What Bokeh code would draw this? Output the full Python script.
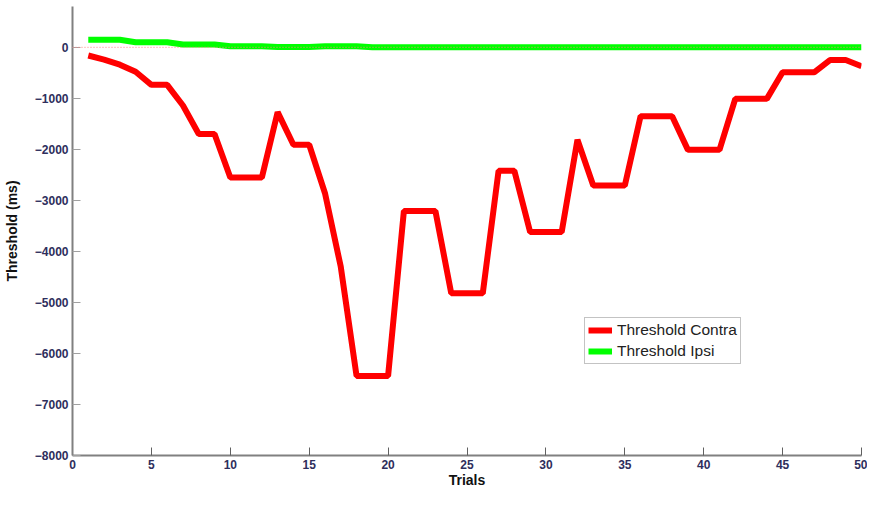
from bokeh.plotting import figure
from bokeh.models import FixedTicker, Span
from bokeh.embed import file_html
from bokeh.resources import INLINE

trials = list(range(1, 51))
contra = [-160, -240, -340, -480, -735, -735, -1140, -1700, -1700, -2550,
          -2550, -2550, -1270, -1910, -1910, -2860, -4300, -6440, -6440, -6440,
          -3210, -3210, -3210, -4820, -4820, -4820, -2420, -2420, -3620, -3620,
          -3620, -1810, -2710, -2710, -2710, -1350, -1350, -1350, -2010, -2010,
          -2010, -1010, -1010, -1010, -490, -490, -490, -250, -250, -370]
ipsi = [150, 150, 150, 100, 100, 100, 55, 55, 55, 20,
        20, 20, 5, 5, 5, 20, 20, 20, 0, 0,
        0, 0, 0, 0, 0, 0, 0, 0, 0, 0,
        0, 0, 0, 0, 0, 0, 0, 0, 0, 0,
        0, 0, 0, 0, 0, 0, 0, 0, 0, 0]
x_ticks = [0, 5, 10, 15, 20, 25, 30, 35, 40, 45, 50]
y_ticks = [0, -1000, -2000, -3000, -4000, -5000, -6000, -7000, -8000]

p = figure(width=867, height=490, x_range=(0, 50), y_range=(-8000, 800),
           output_backend="svg", toolbar_location=None,
           min_border_left=0, min_border_right=6, min_border_top=6, min_border_bottom=0)
p.outline_line_color = None
p.xgrid.visible = False
p.ygrid.visible = False
p.background_fill_color = "white"
p.border_fill_color = "white"

p.line(trials, contra, line_color="#ff0000", line_width=6, legend_label="Threshold Contra")
p.line(trials, ipsi, line_color="#00ff00", line_width=6, legend_label="Threshold Ipsi")
p.add_layout(Span(location=0, dimension="width", line_color="#ff8080",
                  line_width=1, line_dash="1 2"))

label_color = "#2e2e5c"
for ax in (p.xaxis[0], p.yaxis[0]):
    ax.axis_line_color = "#808080"
    ax.axis_line_width = 2
    ax.major_tick_in = 8
    ax.major_tick_out = 0
    ax.minor_tick_line_color = None
    ax.major_label_text_font = "Liberation Sans"
    ax.major_label_text_font_style = "bold"
    ax.major_label_text_font_size = "12px"
    ax.major_label_text_color = label_color
    ax.axis_label_text_font = "Liberation Sans"
    ax.axis_label_text_font_style = "bold"
    ax.axis_label_text_font_size = "14px"
    ax.axis_label_text_color = "#111111"

p.xaxis.ticker = FixedTicker(ticks=x_ticks)
p.yaxis.ticker = FixedTicker(ticks=y_ticks)
p.xaxis.major_tick_line_color = "#606060"
p.yaxis.major_tick_line_color = "#a0a0a0"
p.yaxis.major_label_overrides = {t: str(t).replace("-", "\u2212") for t in y_ticks}
p.xaxis.axis_label = "Trials"
p.yaxis.axis_label = "Threshold (ms)"
p.xaxis.major_label_standoff = 4
p.xaxis.major_label_text_line_height = 1.0
p.xaxis.axis_label_standoff = 0
p.xaxis.axis_label_text_line_height = 1.0
p.yaxis.major_label_standoff = 4
p.yaxis.axis_label_standoff = 12

p.legend.location = (512, 91)
p.legend.label_text_font = "Liberation Sans"
p.legend.label_text_font_size = "15.5px"
p.legend.label_text_color = "#222222"
p.legend.glyph_width = 24
p.legend.glyph_height = 16
p.legend.label_standoff = 5
p.legend.padding = 3
p.legend.spacing = 3
p.legend.margin = 0
p.legend.border_line_color = "#888888"
p.legend.border_line_width = 1.5
p.legend.background_fill_alpha = 1

open("out.html", "w").write(file_html(p, INLINE))
